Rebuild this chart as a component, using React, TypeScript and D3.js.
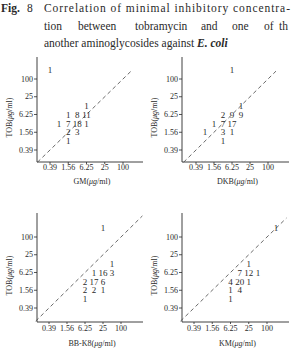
import React from "react";
import * as d3 from "d3";

const tickValues = [0.39, 1.56, 6.25, 25, 100];
const tickLabels = ["0.39", "1.56", "6.25", "25", "100"];

// GM panel
const gmX = [0.39, 6.25, 1.56, 3.12, 6.25, 0.78, 1.56, 3.12, 6.25, 1.56, 3.12, 1.56];
const gmY = [200, 12.5, 6.25, 6.25, 6.25, 3.12, 3.12, 3.12, 3.12, 1.56, 1.56, 0.78];
const gmN = [1, 1, 1, 8, 11, 1, 7, 18, 1, 2, 3, 1];

// DKB panel
const dkbX = [6.25, 12.5, 3.12, 6.25, 12.5, 1.56, 3.12, 6.25, 0.78, 3.12, 6.25, 3.12];
const dkbY = [200, 12.5, 6.25, 6.25, 6.25, 3.12, 3.12, 3.12, 1.56, 1.56, 1.56, 0.78];
const dkbN = [1, 1, 2, 9, 9, 1, 7, 17, 1, 3, 1, 1];

// BB-K8 panel
const bbX = [25, 50, 12.5, 25, 50, 6.25, 12.5, 25, 6.25, 12.5, 25, 6.25];
const bbY = [200, 12.5, 6.25, 6.25, 6.25, 3.12, 3.12, 3.12, 1.56, 1.56, 1.56, 0.78];
const bbN = [1, 1, 1, 16, 3, 2, 17, 6, 2, 2, 1, 1];

// KM panel
const kmX = [200, 25, 12.5, 25, 50, 6.25, 12.5, 25, 6.25, 12.5, 6.25];
const kmY = [200, 12.5, 6.25, 6.25, 6.25, 3.12, 3.12, 3.12, 1.56, 1.56, 0.78];
const kmN = [1, 1, 7, 12, 1, 4, 20, 1, 1, 4, 1];

const FONT = "'Liberation Serif', 'DejaVu Serif', serif";
const INK = "#2a2a2a";

type PanelProps = {
  xs: number[];
  ys: number[];
  ns: number[];
  xName: string;
  left: number;
  right: number;
  top: number;
  bottom: number;
  xRange: [number, number];
  yRange: [number, number];
  diag: [number, number];
  tickLabelY: number;
  titleY: number;
  yTitleX: number;
};

function Panel(p: PanelProps) {
  const x = d3.scaleLog().domain([0.39, 100]).range(p.xRange);
  const y = d3.scaleLog().domain([0.39, 100]).range(p.yRange);
  const yTitleY = (p.top + p.bottom) / 2 + 8;
  return (
    <g>
      <line x1={p.left} x2={p.left} y1={p.top} y2={p.bottom} stroke={INK} strokeWidth={0.9} />
      <line x1={p.left} x2={p.right} y1={p.bottom} y2={p.bottom} stroke={INK} strokeWidth={0.9} />
      {tickValues.map((v, i) => (
        <g key={"t" + i}>
          <line x1={p.left - 3} x2={p.left} y1={y(v)} y2={y(v)} stroke={INK} strokeWidth={0.8} />
          <text x={p.left - 4} y={y(v) + 2.7} textAnchor="end" fontSize={8} fill={INK} fontFamily={FONT}>
            {tickLabels[i]}
          </text>
          <line x1={x(v)} x2={x(v)} y1={p.bottom} y2={p.bottom + 2} stroke={INK} strokeWidth={0.8} />
          <text x={x(v)} y={p.tickLabelY} textAnchor="middle" fontSize={8} fill={INK} fontFamily={FONT}>
            {tickLabels[i]}
          </text>
        </g>
      ))}
      <line
        x1={x(p.diag[0])}
        y1={y(p.diag[0])}
        x2={x(p.diag[1])}
        y2={y(p.diag[1])}
        stroke="#444"
        strokeWidth={0.8}
        strokeDasharray="4 3"
      />
      {p.ns.map((n, i) => (
        <text
          key={"n" + i}
          x={x(p.xs[i])}
          y={y(p.ys[i]) + 3.2}
          textAnchor="middle"
          fontSize={9}
          fill={INK}
          fontFamily={FONT}
        >
          {n}
        </text>
      ))}
      <text x={(p.left + p.right) / 2 + 2} y={p.titleY} textAnchor="middle" fontSize={8} fill={INK} fontFamily={FONT}>
        {p.xName}(<tspan fontStyle="italic">μg</tspan>/ml)
      </text>
      <text
        transform={`translate(${p.yTitleX},${yTitleY}) rotate(-90)`}
        textAnchor="middle"
        fontSize={8}
        fill={INK}
        fontFamily={FONT}
      >
        TOB(<tspan fontStyle="italic">μg</tspan>/ml)
      </text>
    </g>
  );
}

export default function App() {
  return (
    <svg width={291} height={354} style={{ position: "absolute", left: 0, top: 0, background: "#fff" }}>
      <rect width={291} height={354} fill="#fff" />
      <g fontFamily={FONT} fill={INK} fontSize={11.5}>
        <text x={1} y={12}>
          <tspan fontWeight="bold">Fig.</tspan>
          <tspan x={27}>8</tspan>
          <tspan x={44} textLength={246} lengthAdjust="spacing">Correlation of minimal inhibitory concentra-</tspan>
        </text>
        <text x={44} y={30}>
          <tspan x={44}>tion</tspan>
          <tspan x={78}>between</tspan>
          <tspan x={135}>tobramycin</tspan>
          <tspan x={201}>and</tspan>
          <tspan x={232}>one</tspan>
          <tspan x={264}>of</tspan>
          <tspan x={279}>th</tspan>
        </text>
        <text x={44} y={47}>
          another aminoglycosides against{" "}
          <tspan fontWeight="bold" fontStyle="italic">E. coli</tspan>
        </text>
      </g>
      <Panel
        xs={gmX} ys={gmY} ns={gmN} xName="GM"
        left={37} right={143} top={57} bottom={162}
        xRange={[50, 123]} yRange={[150, 79]} diag={[0.15, 185]}
        tickLabelY={170} titleY={184} yTitleX={12}
      />
      <Panel
        xs={dkbX} ys={dkbY} ns={dkbN} xName="DKB"
        left={182} right={289} top={57} bottom={162}
        xRange={[196, 268]} yRange={[150, 79]} diag={[0.15, 185]}
        tickLabelY={170} titleY={184} yTitleX={157}
      />
      <Panel
        xs={bbX} ys={bbY} ns={bbN} xName="BB-K8"
        left={37} right={143} top={213} bottom={322}
        xRange={[49, 121]} yRange={[308, 237]} diag={[0.14, 520]}
        tickLabelY={331} titleY={346} yTitleX={12}
      />
      <Panel
        xs={kmX} ys={kmY} ns={kmN} xName="KM"
        left={182} right={289} top={213} bottom={322}
        xRange={[194, 267]} yRange={[308, 237]} diag={[0.14, 440]}
        tickLabelY={331} titleY={346} yTitleX={157}
      />
    </svg>
  );
}
